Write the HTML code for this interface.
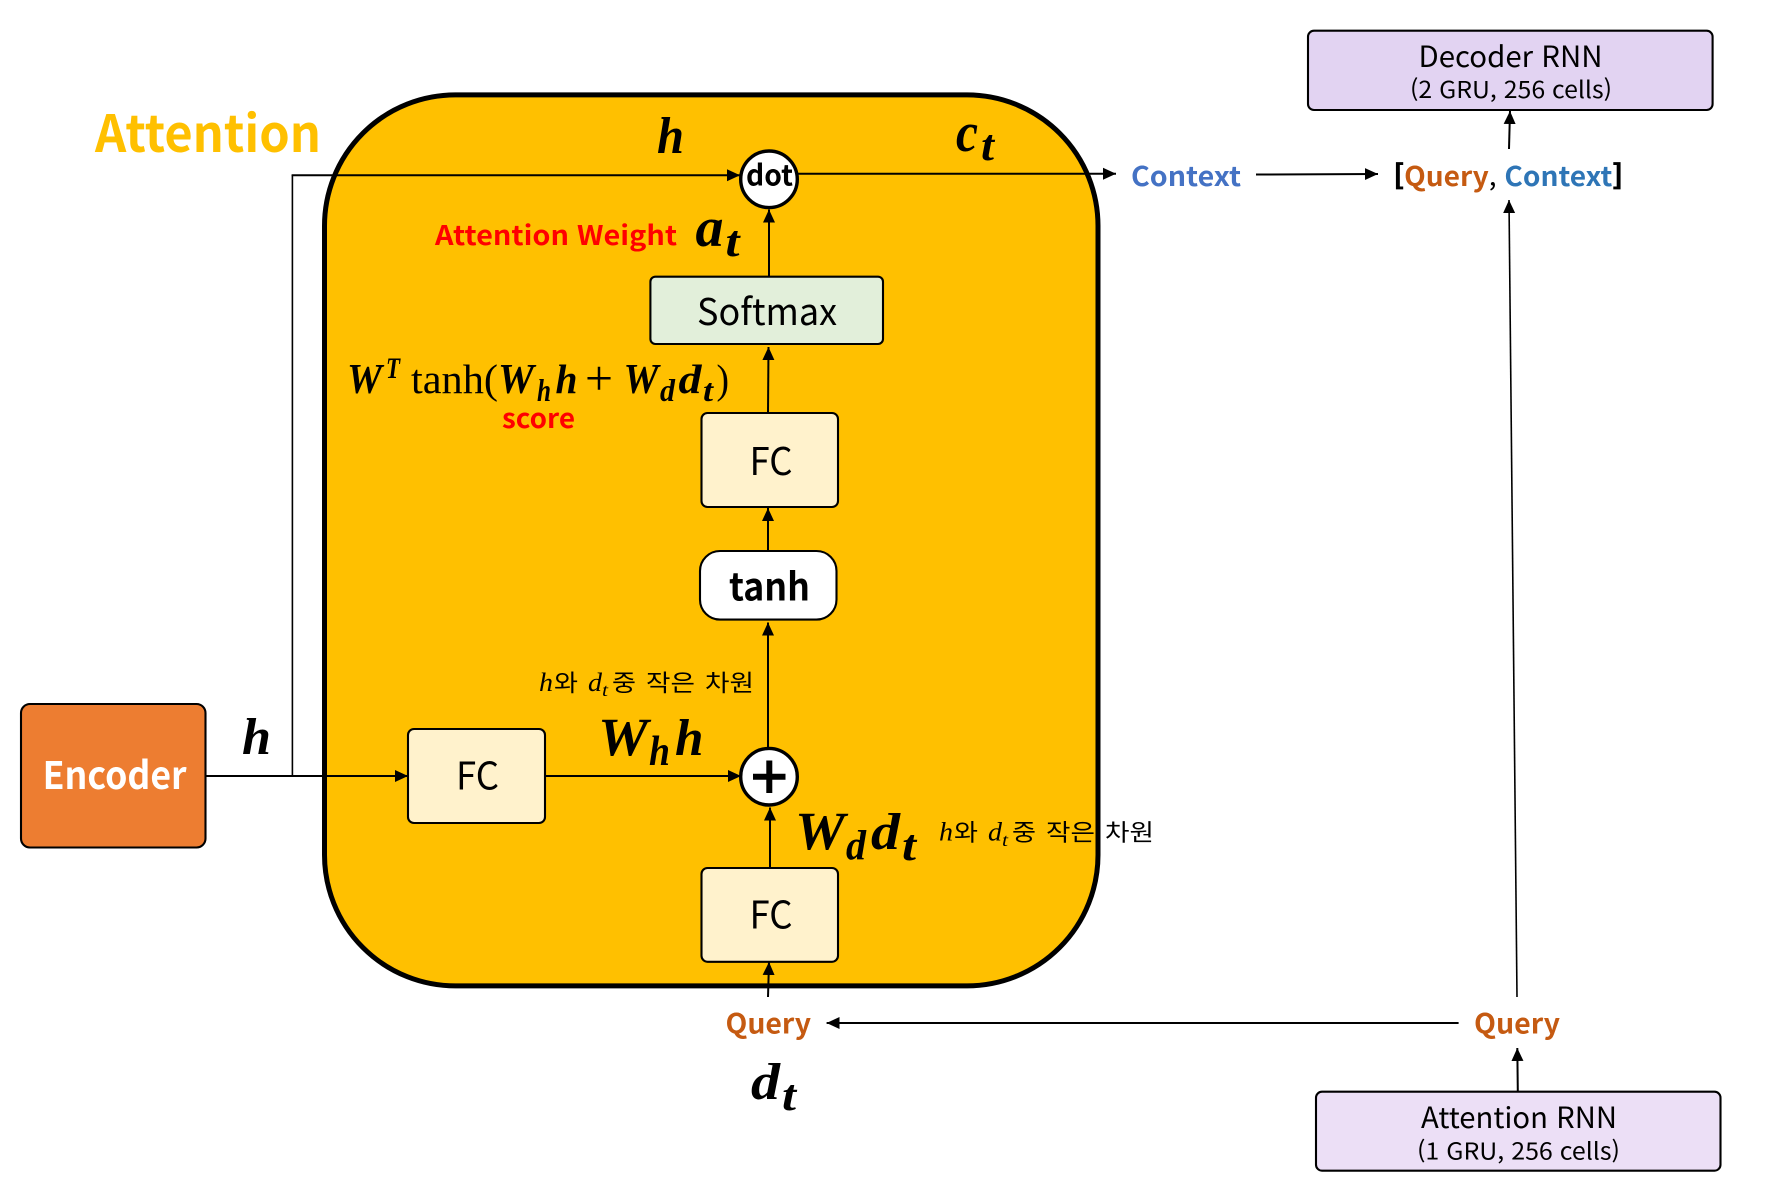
<!DOCTYPE html>
<html lang="ko">
<head>
<meta charset="utf-8">
<title>Attention mechanism diagram</title>
<style>
html,body{margin:0;padding:0;background:#fff;width:1773px;height:1204px;overflow:hidden}
svg{display:block}
.ui{font-family:"Noto Sans CJK KR","Liberation Sans",sans-serif}
.b{font-weight:700}
.m{font-family:"Liberation Serif",serif;font-style:italic;font-weight:700;fill:#000}
.r{font-family:"Liberation Serif",serif;font-style:normal;font-weight:400;fill:#000}
.i{font-family:"Liberation Serif",serif;font-style:italic;font-weight:400;fill:#000}
.box{stroke:#000;stroke-width:2.1}
.ln{stroke:#000;stroke-width:2;fill:none}
</style>
</head>
<body>
<svg xmlns="http://www.w3.org/2000/svg" width="1773" height="1204" viewBox="0 0 1773 1204">
<defs>
<marker id="ah" markerUnits="userSpaceOnUse" markerWidth="14" markerHeight="14" refX="13" refY="7" orient="auto"><path d="M0,1 L13,7 L0,13 Z" fill="#000"/></marker>
</defs>
<rect width="1773" height="1204" fill="#fff"/>

<rect x="324.5" y="94.9" width="773.5" height="891" rx="131" ry="131" fill="#FFC000" stroke="#000" stroke-width="5"/>

<text x="95" y="152" class="ui b" font-size="51" fill="#FFC000" textLength="226" lengthAdjust="spacingAndGlyphs">Attention</text>

<!-- connectors -->
<line x1="292.4" y1="175" x2="292.4" y2="776" stroke="#000" stroke-width="1.6"/>
<line x1="291.6" y1="175.3" x2="740" y2="175.3" class="ln" marker-end="url(#ah)"/>
<line x1="205" y1="776" x2="408" y2="776" class="ln" marker-end="url(#ah)"/>
<line x1="545" y1="776" x2="741" y2="776" class="ln" marker-end="url(#ah)"/>
<line x1="770" y1="868" x2="770" y2="807.5" class="ln" marker-end="url(#ah)"/>
<line x1="768" y1="997" x2="769" y2="962" class="ln" marker-end="url(#ah)"/>
<line x1="768" y1="748" x2="768" y2="622.5" class="ln" marker-end="url(#ah)"/>
<line x1="768" y1="551" x2="768" y2="508" class="ln" marker-end="url(#ah)"/>
<line x1="768" y1="413" x2="768.5" y2="347" class="ln" marker-end="url(#ah)"/>
<line x1="769" y1="277" x2="769" y2="209.5" class="ln" marker-end="url(#ah)"/>
<line x1="798" y1="173.7" x2="1116" y2="173.7" class="ln" marker-end="url(#ah)"/>
<line x1="1256" y1="174.5" x2="1378" y2="174" class="ln" marker-end="url(#ah)"/>
<line x1="1509" y1="149" x2="1510" y2="111" class="ln" marker-end="url(#ah)"/>
<line x1="1517" y1="997" x2="1509" y2="200" stroke="#000" stroke-width="1.6" marker-end="url(#ah)"/>
<line x1="1458.6" y1="1023" x2="826.6" y2="1023" class="ln" marker-end="url(#ah)"/>
<line x1="1517.8" y1="1091" x2="1517.3" y2="1048" class="ln" marker-end="url(#ah)"/>

<!-- boxes -->
<g>
<rect x="21" y="704" width="184.5" height="143.5" rx="9" class="box" fill="#ED7D31"/>
<text x="42.6" y="789" class="ui b" font-size="38" fill="#fff" textLength="144" lengthAdjust="spacingAndGlyphs">Encoder</text>
</g>
<g>
<rect x="408" y="729" width="137" height="94" rx="6" class="box" fill="#FFF2CC"/>
<text x="456" y="789.5" class="ui" font-size="38" fill="#000" textLength="43" lengthAdjust="spacingAndGlyphs">FC</text>
</g>
<g>
<rect x="701.5" y="868" width="136.5" height="93.8" rx="6" class="box" fill="#FFF2CC"/>
<text x="749.5" y="928.5" class="ui" font-size="38" fill="#000" textLength="43" lengthAdjust="spacingAndGlyphs">FC</text>
</g>
<g>
<rect x="701.5" y="413" width="136.5" height="94" rx="6" class="box" fill="#FFF2CC"/>
<text x="749.5" y="475" class="ui" font-size="38" fill="#000" textLength="43" lengthAdjust="spacingAndGlyphs">FC</text>
</g>
<g>
<rect x="700" y="551" width="136.5" height="68.6" rx="20" class="box" fill="#fff"/>
<text x="729" y="600.5" class="ui b" font-size="38" fill="#000" textLength="81" lengthAdjust="spacingAndGlyphs">tanh</text>
</g>
<g>
<rect x="650.4" y="276.7" width="232.6" height="67.3" rx="5" class="box" fill="#E2EFDA"/>
<text x="697" y="325" class="ui" font-size="37" fill="#000" textLength="140" lengthAdjust="spacingAndGlyphs">Softmax</text>
</g>
<g>
<circle cx="769" cy="179.3" r="28.3" fill="#fff" stroke="#000" stroke-width="3.4"/>
<text x="746" y="185.5" class="ui b" font-size="29" fill="#000" textLength="47" lengthAdjust="spacingAndGlyphs">dot</text>
</g>
<g>
<circle cx="769" cy="776.7" r="28.3" fill="#fff" stroke="#000" stroke-width="3.4"/>
<line x1="753" y1="776.7" x2="785.5" y2="776.7" stroke="#000" stroke-width="6"/>
<line x1="769.3" y1="760.5" x2="769.3" y2="793" stroke="#000" stroke-width="6"/>
</g>
<g>
<rect x="1308" y="30.7" width="404.6" height="79.3" rx="6" class="box" fill="#E2D3F2"/>
<text x="1418.5" y="67" class="ui" font-size="29" fill="#000" textLength="184" lengthAdjust="spacingAndGlyphs">Decoder RNN</text>
<text x="1410" y="98" class="ui" font-size="23.5" fill="#000" textLength="202" lengthAdjust="spacingAndGlyphs">(2 GRU, 256 cells)</text>
</g>
<g>
<rect x="1316" y="1091.7" width="404.5" height="79" rx="6" class="box" fill="#ECDFF6"/>
<text x="1421" y="1128" class="ui" font-size="29" fill="#000" textLength="196" lengthAdjust="spacingAndGlyphs">Attention RNN</text>
<text x="1417" y="1159.5" class="ui" font-size="23.5" fill="#000" textLength="203" lengthAdjust="spacingAndGlyphs">(1 GRU, 256 cells)</text>
</g>

<!-- labels -->
<text x="1131" y="186" class="ui b" font-size="27" fill="#4472C4" textLength="110" lengthAdjust="spacingAndGlyphs">Context</text>
<text x="1393.5" y="186" class="ui b" font-size="27" xml:space="preserve" textLength="229.5" lengthAdjust="spacingAndGlyphs"><tspan fill="#000" stroke="#000" stroke-width="0.8">[</tspan><tspan fill="#C55A11">Query</tspan><tspan fill="#000" font-weight="400">, </tspan><tspan fill="#2E75B6">Context</tspan><tspan fill="#000" stroke="#000" stroke-width="0.8">]</tspan></text>
<text x="1474" y="1033.5" class="ui b" font-size="27.5" fill="#C55A11" textLength="86" lengthAdjust="spacingAndGlyphs">Query</text>
<text x="725.5" y="1033.5" class="ui b" font-size="27.5" fill="#C55A11" textLength="85.5" lengthAdjust="spacingAndGlyphs">Query</text>
<text x="435" y="245" class="ui b" font-size="27" fill="#FF0000" textLength="242" lengthAdjust="spacingAndGlyphs">Attention Weight</text>
<text x="502" y="428" class="ui b" font-size="27" fill="#FF0000" textLength="73" lengthAdjust="spacingAndGlyphs">score</text>

<!-- math -->
<text x="657" y="153" class="m" font-size="52" textLength="27" lengthAdjust="spacingAndGlyphs">h</text>
<text x="242" y="754" class="m" font-size="52" textLength="29" lengthAdjust="spacingAndGlyphs">h</text>
<g>
<text x="956" y="151" class="m" font-size="56" textLength="22" lengthAdjust="spacingAndGlyphs">c</text>
<text x="981" y="160" class="m" font-size="44" textLength="13" lengthAdjust="spacingAndGlyphs">t</text>
</g>
<g>
<text x="695.5" y="246" class="m" font-size="56" textLength="28" lengthAdjust="spacingAndGlyphs">a</text>
<text x="725.5" y="256" class="m" font-size="44" textLength="14" lengthAdjust="spacingAndGlyphs">t</text>
</g>
<g>
<text x="751" y="1099" class="m" font-size="52" textLength="29" lengthAdjust="spacingAndGlyphs">d</text>
<text x="782" y="1110" class="m" font-size="44" textLength="14" lengthAdjust="spacingAndGlyphs">t</text>
</g>
<g>
<text x="598" y="755" class="m" font-size="54" textLength="50" lengthAdjust="spacingAndGlyphs">W</text>
<text x="649" y="765" class="m" font-size="42" textLength="21" lengthAdjust="spacingAndGlyphs">h</text>
<text x="675" y="755" class="m" font-size="52" textLength="28.5" lengthAdjust="spacingAndGlyphs">h</text>
</g>
<g>
<text x="795" y="849" class="m" font-size="54" textLength="50" lengthAdjust="spacingAndGlyphs">W</text>
<text x="846" y="859.5" class="m" font-size="42" textLength="20" lengthAdjust="spacingAndGlyphs">d</text>
<text x="871" y="849" class="m" font-size="52" textLength="29" lengthAdjust="spacingAndGlyphs">d</text>
<text x="902" y="860" class="m" font-size="44" textLength="14" lengthAdjust="spacingAndGlyphs">t</text>
</g>
<g>
<text x="347" y="393" class="m" font-size="42" textLength="35" lengthAdjust="spacingAndGlyphs">W</text>
<text x="386" y="378" class="m" font-size="30" textLength="14" lengthAdjust="spacingAndGlyphs">T</text>
<text x="411" y="393" class="r" font-size="41" textLength="87" lengthAdjust="spacingAndGlyphs">tanh(</text>
<text x="498" y="393" class="m" font-size="42" textLength="36" lengthAdjust="spacingAndGlyphs">W</text>
<text x="537" y="401" class="m" font-size="32" textLength="14" lengthAdjust="spacingAndGlyphs">h</text>
<text x="555.5" y="393" class="m" font-size="41" textLength="22" lengthAdjust="spacingAndGlyphs">h</text>
<text x="585" y="395" class="r" font-size="50" textLength="28" lengthAdjust="spacingAndGlyphs">+</text>
<text x="623.5" y="393" class="m" font-size="42" textLength="35" lengthAdjust="spacingAndGlyphs">W</text>
<text x="660" y="401" class="m" font-size="32" textLength="15" lengthAdjust="spacingAndGlyphs">d</text>
<text x="678.5" y="393" class="m" font-size="41" textLength="23" lengthAdjust="spacingAndGlyphs">d</text>
<text x="703" y="401" class="m" font-size="32" textLength="10" lengthAdjust="spacingAndGlyphs">t</text>
<text x="716.5" y="393" class="r" font-size="41" textLength="12.5" lengthAdjust="spacingAndGlyphs">)</text>
</g>

<g>
<text x="539" y="691" class="i" font-size="26" textLength="14" lengthAdjust="spacingAndGlyphs">h</text>
<text x="554" y="691" class="ui" font-size="23.5" fill="#000" textLength="24" lengthAdjust="spacingAndGlyphs">와</text>
<text x="588" y="691" class="i" font-size="26" textLength="14" lengthAdjust="spacingAndGlyphs">d</text>
<text x="602" y="696" class="i" font-size="18" textLength="6" lengthAdjust="spacingAndGlyphs">t</text>
<text x="612" y="691" class="ui" font-size="23.5" fill="#000" textLength="24" lengthAdjust="spacingAndGlyphs">중</text>
<text x="646" y="691" class="ui" font-size="23.5" fill="#000" textLength="49" lengthAdjust="spacingAndGlyphs">작은</text>
<text x="705" y="691" class="ui" font-size="23.5" fill="#000" textLength="49" lengthAdjust="spacingAndGlyphs">차원</text>
</g>
<g>
<text x="939" y="840.5" class="i" font-size="26" textLength="14" lengthAdjust="spacingAndGlyphs">h</text>
<text x="954" y="840.5" class="ui" font-size="23.5" fill="#000" textLength="24" lengthAdjust="spacingAndGlyphs">와</text>
<text x="988" y="840.5" class="i" font-size="26" textLength="14" lengthAdjust="spacingAndGlyphs">d</text>
<text x="1002" y="846" class="i" font-size="18" textLength="6" lengthAdjust="spacingAndGlyphs">t</text>
<text x="1012" y="840.5" class="ui" font-size="23.5" fill="#000" textLength="24" lengthAdjust="spacingAndGlyphs">중</text>
<text x="1046" y="840.5" class="ui" font-size="23.5" fill="#000" textLength="49" lengthAdjust="spacingAndGlyphs">작은</text>
<text x="1105" y="840.5" class="ui" font-size="23.5" fill="#000" textLength="49" lengthAdjust="spacingAndGlyphs">차원</text>
</g>
</svg>
</body>
</html>
